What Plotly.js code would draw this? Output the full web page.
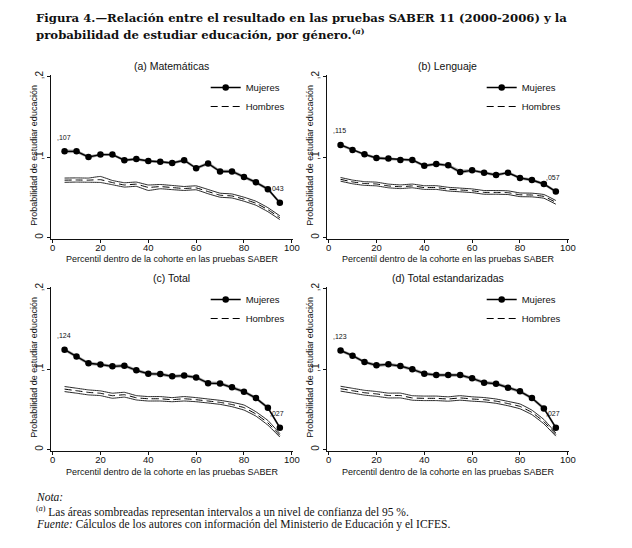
<!DOCTYPE html>
<html>
<head>
<meta charset="utf-8">
<script src="https://cdn.plot.ly/plotly-3.0.1.min.js"></script>
<style>
html,body{margin:0;padding:0;background:#fff;}
#chart{width:632px;height:548px;}
</style>
</head>
<body>
<div id="chart"></div>
<script>
// ---------------- DATA ----------------
const percentil = [5,10,15,20,25,30,35,40,45,50,55,60,65,70,75,80,85,90,95];

// (a) Matemáticas
const mujA    = [0.107,0.107,0.100,0.103,0.103,0.096,0.0975,0.095,0.094,0.0925,0.096,0.086,0.092,0.082,0.082,0.075,0.0685,0.060,0.043];
const mujA_lo = [0.1048,0.1050,0.0982,0.1012,0.1012,0.0943,0.0958,0.0933,0.0923,0.0908,0.0940,0.0840,0.0900,0.0800,0.0800,0.0730,0.0665,0.0580,0.0408];
const mujA_hi = [0.1092,0.1090,0.1018,0.1048,0.1048,0.0977,0.0992,0.0967,0.0957,0.0942,0.0980,0.0880,0.0940,0.0840,0.0840,0.0770,0.0705,0.0620,0.0452];
const homA    = [0.0712,0.0714,0.0712,0.0718,0.0682,0.0652,0.0662,0.0622,0.0632,0.0620,0.0608,0.0616,0.0570,0.0525,0.0515,0.0475,0.0425,0.0345,0.0245];
const homA_lo = [0.0685,0.0688,0.0686,0.0683,0.0655,0.0626,0.0635,0.0584,0.0605,0.0594,0.0584,0.0592,0.0543,0.0500,0.0490,0.0450,0.0400,0.0320,0.0222];
const homA_hi = [0.0738,0.0740,0.0738,0.0758,0.0708,0.0680,0.0688,0.0652,0.0658,0.0646,0.0633,0.0641,0.0596,0.0550,0.0540,0.0500,0.0450,0.0370,0.0268];

// (b) Lenguaje
const mujB    = [0.115,0.1087,0.1033,0.0988,0.0980,0.0963,0.0963,0.0892,0.0913,0.0896,0.0813,0.0834,0.0805,0.0776,0.0805,0.0739,0.0714,0.0664,0.057];
const mujB_lo = [0.1130,0.1069,0.1015,0.0970,0.0962,0.0945,0.0945,0.0874,0.0895,0.0878,0.0790,0.0816,0.0787,0.0758,0.0787,0.0721,0.0696,0.0646,0.0552];
const mujB_hi = [0.1170,0.1105,0.1051,0.1006,0.0998,0.0981,0.0981,0.0910,0.0931,0.0914,0.0840,0.0852,0.0823,0.0794,0.0823,0.0757,0.0732,0.0682,0.0588];
const homB    = [0.0722,0.0690,0.0670,0.0664,0.0640,0.0630,0.0640,0.0620,0.0620,0.0600,0.0590,0.0580,0.0560,0.0560,0.0556,0.0530,0.0527,0.0510,0.0436];
const homB_lo = [0.0699,0.0667,0.0647,0.0641,0.0617,0.0607,0.0617,0.0597,0.0597,0.0577,0.0567,0.0557,0.0537,0.0537,0.0533,0.0507,0.0504,0.0487,0.0413];
const homB_hi = [0.0745,0.0713,0.0693,0.0687,0.0663,0.0653,0.0663,0.0643,0.0643,0.0623,0.0613,0.0603,0.0583,0.0583,0.0579,0.0553,0.0550,0.0533,0.0459];

// (c) Total
const mujC    = [0.124,0.1157,0.1071,0.1056,0.1033,0.1041,0.0983,0.0941,0.0937,0.0909,0.0918,0.0895,0.0824,0.0820,0.0772,0.0718,0.0638,0.0519,0.027];
const mujC_lo = [0.1220,0.1137,0.1051,0.1036,0.1013,0.1021,0.0963,0.0921,0.0917,0.0889,0.0898,0.0875,0.0804,0.0800,0.0752,0.0698,0.0618,0.0497,0.0245];
const mujC_hi = [0.1260,0.1177,0.1091,0.1076,0.1053,0.1061,0.1003,0.0961,0.0957,0.0929,0.0938,0.0915,0.0844,0.0840,0.0792,0.0738,0.0658,0.0541,0.0295];
const homC    = [0.0750,0.0730,0.0709,0.0698,0.0668,0.0680,0.0642,0.0630,0.0630,0.0618,0.0630,0.0618,0.0602,0.0585,0.0558,0.0520,0.0440,0.0330,0.0175];
const homC_lo = [0.0719,0.0699,0.0678,0.0669,0.0636,0.0650,0.0615,0.0602,0.0602,0.0593,0.0602,0.0593,0.0577,0.0560,0.0531,0.0489,0.0414,0.0302,0.0154];
const homC_hi = [0.0782,0.0761,0.0740,0.0728,0.0699,0.0710,0.0669,0.0657,0.0657,0.0644,0.0657,0.0644,0.0627,0.0610,0.0586,0.0552,0.0468,0.0360,0.0197];

// (d) Total estandarizadas
const mujD    = [0.123,0.1166,0.1087,0.1046,0.1058,0.1037,0.0996,0.0942,0.0925,0.0925,0.0925,0.0884,0.0830,0.0817,0.0768,0.0722,0.0639,0.0510,0.027];
const mujD_lo = [0.1210,0.1146,0.1067,0.1026,0.1038,0.1017,0.0976,0.0922,0.0905,0.0905,0.0905,0.0864,0.0810,0.0797,0.0748,0.0702,0.0619,0.0488,0.0245];
const mujD_hi = [0.1250,0.1186,0.1107,0.1066,0.1078,0.1057,0.1016,0.0962,0.0945,0.0945,0.0945,0.0904,0.0850,0.0837,0.0788,0.0742,0.0659,0.0532,0.0295];
const homD    = [0.0755,0.0730,0.0705,0.0690,0.0670,0.0670,0.0640,0.0635,0.0635,0.0627,0.0640,0.0627,0.0618,0.0600,0.0570,0.0535,0.0460,0.0345,0.0185];
const homD_lo = [0.0725,0.0700,0.0675,0.0660,0.0640,0.0640,0.0612,0.0607,0.0607,0.0600,0.0612,0.0600,0.0591,0.0573,0.0543,0.0505,0.0432,0.0318,0.0165];
const homD_hi = [0.0785,0.0760,0.0735,0.0720,0.0700,0.0700,0.0668,0.0663,0.0663,0.0654,0.0668,0.0654,0.0645,0.0627,0.0597,0.0565,0.0488,0.0372,0.0205];

const panelTitles = ["(a) Matemáticas","(b) Lenguaje","(c) Total","(d) Total estandarizadas"];
const seriesNames = ["Mujeres","Hombres"];
const xTickVals = [0,20,40,60,80,100];
const yTickVals = [0,0.1,0.2];
const yTickText = ["0",",1",",2"];
const xTitle = "Percentil dentro de la cohorte en las pruebas SABER";
const yTitle = "Probabilidad de estudiar educación";
const figTitle1 = "Figura 4.—Relación entre el resultado en las pruebas SABER 11 (2000-2006) y la";
const figTitle2 = "probabilidad de estudiar educación, por género.<sup>(<i>a</i>)</sup>";
const note1 = "<i>Nota:</i>";
const note2 = "<sup>(<i>a</i>)</sup> Las áreas sombreadas representan intervalos a un nivel de confianza del 95 %.";
const note3 = "<i>Fuente:</i> Cálculos de los autores con información del Ministerio de Educación y el ICFES.";

// ---------------- LAYOUT HELPERS ----------------
const W = 632, H = 548;
const px = v => v / W;
const py = v => 1 - v / H;
const SANS = "Liberation Sans, Arial, sans-serif";
const SERIF = "DejaVu Serif, serif";
const SERIF2 = "Liberation Serif, Times New Roman, serif";

const panels = [
  {muj:mujA, mlo:mujA_lo, mhi:mujA_hi, hom:homA, hlo:homA_lo, hhi:homA_hi, x0:50.7, x1:293, y0:75, y1:239},
  {muj:mujB, mlo:mujB_lo, mhi:mujB_hi, hom:homB, hlo:homB_lo, hhi:homB_hi, x0:326.7, x1:569, y0:75, y1:239},
  {muj:mujC, mlo:mujC_lo, mhi:mujC_hi, hom:homC, hlo:homC_lo, hhi:homC_hi, x0:50.7, x1:293, y0:287, y1:451},
  {muj:mujD, mlo:mujD_lo, mhi:mujD_hi, hom:homD, hlo:homD_lo, hhi:homD_hi, x0:326.7, x1:569, y0:287, y1:451}
];

const fmtLabel = v => "," + v.toFixed(3).split(".")[1];

const traces = [];
const layout = {
  width: W, height: H,
  margin: {l:0, r:0, t:0, b:0},
  paper_bgcolor: "#fff", plot_bgcolor: "#fff",
  font: {family: SANS, color: "#111"},
  showlegend: true,
  annotations: [],
};

panels.forEach((p, i) => {
  const k = i === 0 ? "" : String(i + 1);
  const xa = "x" + k, ya = "y" + k;
  const legendId = "legend" + k;

  // Mujeres CI band
  traces.push({x: percentil, y: p.mlo, xaxis: xa, yaxis: ya, type: "scatter", mode: "lines",
    line: {width: 0, color: "rgba(0,0,0,0)"}, showlegend: false, hoverinfo: "skip"});
  traces.push({x: percentil, y: p.mhi, xaxis: xa, yaxis: ya, type: "scatter", mode: "lines",
    line: {width: 0, color: "rgba(0,0,0,0)"}, fill: "tonexty", fillcolor: "rgba(140,140,140,0.8)",
    showlegend: false, hoverinfo: "skip"});
  // Hombres CI outlines
  traces.push({x: percentil, y: p.hlo, xaxis: xa, yaxis: ya, type: "scatter", mode: "lines",
    line: {width: 0.9, color: "#111", shape: "spline", smoothing: 0.3}, showlegend: false});
  traces.push({x: percentil, y: p.hhi, xaxis: xa, yaxis: ya, type: "scatter", mode: "lines",
    line: {width: 0.9, color: "#111", shape: "spline", smoothing: 0.3}, showlegend: false});
  // Mujeres
  traces.push({x: percentil, y: p.muj, xaxis: xa, yaxis: ya, type: "scatter", mode: "lines+markers",
    name: seriesNames[0], legend: legendId,
    line: {width: 1.4, color: "#000"}, marker: {size: 6.5, color: "#000", symbol: "circle"}});
  // Hombres
  traces.push({x: percentil, y: p.hom, xaxis: xa, yaxis: ya, type: "scatter", mode: "lines",
    name: seriesNames[1], legend: legendId,
    line: {width: 1, color: "#000", dash: "7px,4px", shape: "spline", smoothing: 0.3}});

  layout["xaxis" + k] = {
    domain: [px(p.x0), px(p.x1)], anchor: ya, range: [-0.8, 100.5],
    tickvals: xTickVals, ticks: "outside", ticklen: 3, tickwidth: 1, tickcolor: "#111",
    showline: true, linecolor: "#111", linewidth: 1, showgrid: false, zeroline: false,
    tickfont: {family: SANS, size: 9.5, color: "#111"}, automargin: false, ticklabelstandoff: -3
  };
  layout["yaxis" + k] = {
    domain: [py(p.y1), py(p.y0)], anchor: xa, range: [-0.002, 0.202],
    tickvals: yTickVals, ticktext: yTickText, tickangle: -90,
    ticks: "outside", ticklen: 3, tickwidth: 1, tickcolor: "#111",
    showline: true, linecolor: "#111", linewidth: 1, showgrid: false, zeroline: false,
    tickfont: {family: SANS, size: 10, color: "#111"}, automargin: false, ticklabelstandoff: -2.5
  };
  layout[legendId] = {
    x: px(p.x0 + 155), y: py(p.y0 - 2), xanchor: "left", yanchor: "top", traceorder: "normal",
    bgcolor: "rgba(0,0,0,0)", borderwidth: 0,
    font: {family: SANS, size: 9.5, color: "#111"}, tracegroupgap: 0
  };

  // panel title
  layout.annotations.push({xref: "paper", yref: "paper", x: px((p.x0 + p.x1) / 2), y: py(p.y0 - 9),
    text: panelTitles[i], showarrow: false, xanchor: "center", yanchor: "middle",
    font: {family: SANS, size: 10.5, color: "#111"}});
  // axis titles
  layout.annotations.push({xref: "paper", yref: "paper", x: px((p.x0 + p.x1) / 2 + 1), y: py(p.y1 + 20.5),
    text: xTitle, showarrow: false, xanchor: "center", yanchor: "middle",
    font: {family: SANS, size: 9, color: "#111"}});
  layout.annotations.push({xref: "paper", yref: "paper", x: px(p.x0 - 17), y: py((p.y0 + p.y1) / 2 - 2),
    text: yTitle, showarrow: false, xanchor: "center", yanchor: "middle", textangle: -90,
    font: {family: SANS, size: 9, color: "#111"}});

  // first/last value labels
  const n = p.muj.length;
  [0, n - 1].forEach(j => {
    layout.annotations.push({xref: xa, yref: ya, x: percentil[j], y: p.muj[j],
      text: fmtLabel(p.muj[j]), showarrow: false, xanchor: "center", yanchor: "middle",
      xshift: j === 0 ? -1 : -3, yshift: 14, font: {family: SANS, size: 7, color: "#111"}});
  });
});

// figure title and notes
layout.annotations.push({xref:"paper", yref:"paper", x: px(34), y: py(18), xanchor:"left", yanchor:"middle",
  text: "<b>" + figTitle1 + "</b>", showarrow:false, font:{family: SERIF, size: 11.7, color:"#111"}});
layout.annotations.push({xref:"paper", yref:"paper", x: px(34), y: py(34), xanchor:"left", yanchor:"middle",
  text: "<b>" + figTitle2 + "</b>", showarrow:false, font:{family: SERIF, size: 11.7, color:"#111"}});
layout.annotations.push({xref:"paper", yref:"paper", x: px(34), y: py(497), xanchor:"left", yanchor:"middle",
  text: note1, showarrow:false, font:{family: SERIF2, size: 11.5, color:"#111"}});
layout.annotations.push({xref:"paper", yref:"paper", x: px(34), y: py(511), xanchor:"left", yanchor:"middle",
  text: note2, showarrow:false, font:{family: SERIF2, size: 11.5, color:"#111"}});
layout.annotations.push({xref:"paper", yref:"paper", x: px(34), y: py(524), xanchor:"left", yanchor:"middle",
  text: note3, showarrow:false, font:{family: SERIF2, size: 11.5, color:"#111"}});

Plotly.newPlot("chart", traces, layout, {staticPlot: true, displayModeBar: false});
</script>
</body>
</html>
